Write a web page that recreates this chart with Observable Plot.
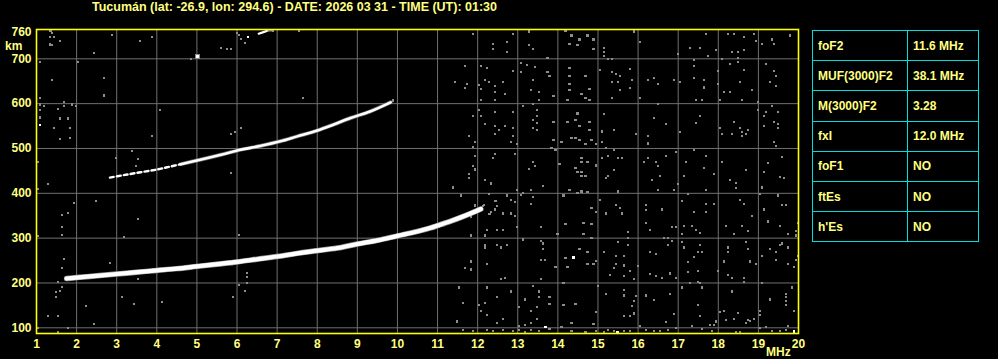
<!DOCTYPE html>
<html>
<head>
<meta charset="utf-8">
<script src="https://cdn.jsdelivr.net/npm/d3@7"></script>
<script src="https://cdn.jsdelivr.net/npm/@observablehq/plot@0.6"></script>
<style>
  html, body { margin: 0; padding: 0; background: #000; }
  #wrap { position: relative; width: 998px; height: 359px; overflow: hidden; background: #000;
          font-family: "Liberation Sans", Arial, sans-serif; font-weight: bold; font-size: 12px; color: #ffff80; }
  #chart { position: absolute; left: 0; top: 0; }
  .lbl { position: absolute; white-space: nowrap; line-height: 12px; }
  #title { left: 92px; top: 1px; transform-origin: 0 0; }
  #km { left: 5px; top: 40px; }
  #mhz { left: 766px; top: 346px; font-size: 12px; }
  #params { position: absolute; left: 812px; top: 30px; width: 166px; border-collapse: collapse; table-layout: fixed; }
  #params td { border: 1px solid #00dede; height: 29.2px; padding: 0 0 0 5px; color: #ffff80; font-size: 12px; line-height: 12px; white-space: nowrap; }
</style>
</head>
<body>
<div id="wrap">
  <div id="chart"></div>
  <div id="title" class="lbl"></div>
  <div id="km" class="lbl">km</div>
  <div id="mhz" class="lbl">MHz</div>
  <table id="params"><colgroup><col style="width:95px"><col style="width:71px"></colgroup><tbody></tbody></table>
</div>
<script>
// ---------- data ----------
const titleText = "Tucumán (lat: -26.9, lon: 294.6) - DATE: 2026 03 31 - TIME (UT): 01:30";
const freqTicks = [1,2,3,4,5,6,7,8,9,10,11,12,13,14,15,16,17,18,19,20];
const heightTicks = [100,200,300,400,500,600,700,760];
const freqGrid = [2,3,4,5,6,7,8,9,10,11,12,13,14,15,16,17,18,19];
const heightGrid = [100,200,300,400,500,600,700];

const paramNames = ["foF2","MUF(3000)F2","M(3000)F2","fxI","foF1","ftEs","h'Es"];
const paramValues = ["11.6 MHz","38.1 MHz","3.28","12.0 MHz","NO","NO","NO"];

// first-hop F trace (MHz, km)
const fTraceFreq   = [1.75,2.0,2.5,3.0,3.5,4.0,4.5,5.0,5.5,6.0,6.5,7.0,7.5,8.0,8.5,9.0,9.5,10.0,10.5,10.83,11.0,11.33,11.6,11.85,12.08];
const fTraceHeight = [210,212,216,220,224,228,232,237,242,247,253,259,266,272,278,287,295,305,315,323,328,338,347,356,365];

// second-hop trace
const f2DashFreq   = [2.83,3.2,3.6,4.0,4.3,4.6];
const f2DashHeight = [435,441,447,453,459,465];
const f2Freq   = [4.6,5.08,5.6,6.08,6.6,7.08,7.5,8.0,8.4,8.83,9.33,9.83];
const f2Height = [465,475,486,497,506,516,527,540,553,568,583,603];

// third-hop fragment near the top
const f3Freq   = [6.54,6.64,6.74];
const f3Height = [756,759,762];
const f3GreyFreq   = [6.74,6.82,6.9];
const f3GreyHeight = [762,763,763];

// bright isolated echoes
const whiteSpots = [[5.01,706],[6.28,748],[1.09,553],[14.39,257],[15.49,90],[19.89,92],[13.69,102]];

// noise speckles, f < 11 MHz
const noiseLow = [
 [1.35,762],[1.39,757],[1.34,748],[1.44,748],[1.59,739],[1.34,732],[1.39,730],[2.89,753],[2.44,713],
 [1.09,692],[2.04,692],[1.39,652],[2.69,657],[2.69,618],[1.09,612],[1.09,598],[1.19,594],[1.09,585],
 [1.09,569],[1.69,603],[1.69,594],[1.54,589],[1.89,598],[1.99,594],[1.59,567],[1.79,567],[1.44,545],
 [1.84,545],[1.59,522],[1.84,524],[1.54,202],[1.64,191],[1.49,179],[1.49,168],[1.59,182],[1.29,126],
 [1.54,126],[1.54,90],[1.79,99],[1.04,99],[2.24,148],[2.44,108],[3.14,168],[3.44,153],[4.14,157],
 [5.89,168],[6.19,182],[6.04,195],[6.24,200],[1.94,378],[2.49,382],[1.64,351],[1.79,356],[1.64,324],
 [1.64,307],[1.69,253],[1.64,233],[2.84,244],[3.54,342],[3.19,302],[3.54,208],[6.04,307],[6.24,222],
 [6.24,213],[6.04,195],[2.69,619],[4.09,585],[3.89,527],[3.39,495],[2.99,478],[3.54,476],[3.49,460],
 [5.84,533],[5.94,536],[6.09,545],[5.84,445],[7.64,612],[9.89,607],[3.59,739],[3.89,748],[5.59,724],
 [5.74,722],[5.84,722],[5.99,757],[6.04,753],[6.09,744],[6.19,735],[6.89,762],[7.54,762],[4.86,699],
 [1.04,470],[1.04,410],[1.29,420],[1.04,305]
];

// noise speckles, 11-14 MHz
const noise11to14 = [
 [11.89,756],[12.89,756],[13.29,761],[12.39,734],[12.74,737],[13.29,730],[12.39,721],[12.74,716],[13.39,721],
 [13.74,701],[13.09,691],[13.24,687],[13.44,682],[11.69,684],[12.09,684],[12.24,679],[12.89,673],[13.09,670],
 [13.74,670],[13.79,661],[11.44,648],[11.74,643],[11.69,634],[12.04,642],[12.09,632],[12.19,652],[12.29,648],
 [12.44,639],[12.64,648],[12.44,626],[12.69,621],[13.39,652],[13.34,630],[13.54,626],[13.89,617],[12.09,609],
 [12.44,608],[13.54,608],[12.04,585],[12.44,581],[12.89,581],[13.14,594],[13.39,599],[13.49,585],[11.89,572],
 [12.09,572],[13.49,572],[13.39,563],[13.49,556],[12.19,554],[12.44,550],[12.69,550],[12.89,545],[12.54,541],
 [12.44,532],[13.39,545],[13.49,542],[13.89,559],[11.79,527],[12.89,527],[11.94,514],[11.89,504],[12.84,514],
 [12.99,510],[13.89,519],[13.84,501],[13.94,496],[11.94,483],[12.44,487],[12.94,487],[12.39,478],[11.89,460],
 [11.94,453],[11.79,443],[11.79,434],[12.19,429],[12.34,422],[13.29,455],[13.44,461],[13.39,469],[13.64,417],
 [14.04,465],[11.39,413],[11.59,395],[12.29,398],[12.74,395],[13.09,397],[13.14,401],[12.99,408],[13.34,408],
 [12.84,385],[12.94,380],[12.44,382],[13.39,391],[13.34,377],[11.94,373],[12.14,371],[12.49,371],[12.44,364],
 [12.34,359],[12.29,353],[12.64,355],[12.84,355],[12.94,350],[12.24,319],[12.49,319],[12.64,319],[12.99,324],
 [13.59,324],[13.99,310],[11.84,306],[12.19,306],[13.14,297],[13.59,294],[13.64,288],[13.64,275],[12.19,284],
 [12.19,279],[12.49,284],[12.59,279],[12.74,284],[13.59,252],[13.69,252],[11.84,248],[11.69,233],[11.84,230],
 [12.24,243],[13.94,235],[12.59,208],[12.69,212],[13.59,208],[11.54,190],[12.24,190],[13.39,194],[13.54,181],
 [11.64,156],[12.04,151],[12.19,156],[12.49,168],[12.84,181],[13.54,168],[13.79,168],[13.19,163],[13.79,154],
 [13.04,147],[12.09,138],[12.24,129],[13.34,138],[13.49,147],[11.49,114],[12.64,120],[12.49,111],[13.04,104],
 [13.19,107],[13.34,111],[13.49,120],[11.64,96],[11.89,92],[12.24,96],[12.39,93],[12.64,95],[12.89,93],
 [13.04,96],[13.19,90],[13.34,96],[13.54,92],[13.79,98],
 [11.93,372],[12.16,373],[12.08,362],[11.83,348],[12.31,353],[12.49,371],[12.46,382]
];

// noise speckles, 14-17 MHz
const noise14to17 = [
 [14.19,762],[14.34,752],[14.74,752],[14.89,743],[14.54,743],[14.29,734],[14.49,730],[14.89,721],[15.14,725],
 [15.14,716],[15.14,707],[16.04,737],[15.89,761],[16.99,710],[15.24,699],[15.34,699],[14.29,679],[15.04,676],
 [15.34,670],[15.44,666],[15.54,661],[15.79,678],[15.84,652],[14.29,661],[14.69,661],[14.29,643],[14.29,630],
 [14.59,621],[14.69,612],[14.79,632],[14.79,609],[14.24,608],[15.34,648],[15.49,648],[15.54,630],[15.79,634],
 [15.34,612],[16.24,652],[16.39,657],[16.49,643],[16.89,652],[17.04,648],[16.04,612],[16.49,599],[14.49,578],
 [15.14,577],[14.24,559],[14.44,563],[14.79,559],[14.54,550],[14.79,541],[15.09,538],[15.39,541],[15.94,533],
 [16.39,568],[16.69,554],[16.24,527],[16.24,511],[14.34,524],[14.44,523],[14.54,519],[14.69,510],[14.84,519],
 [14.94,510],[14.09,514],[15.09,514],[15.19,501],[15.39,496],[17.04,536],[16.94,493],[14.59,478],[14.59,469],
 [14.74,469],[14.94,462],[14.44,456],[14.49,447],[14.59,438],[14.69,438],[14.59,447],[15.09,478],[15.24,483],
 [15.49,478],[15.59,478],[15.39,452],[15.24,438],[15.19,434],[16.14,469],[16.24,478],[16.44,469],[16.49,460],
 [16.69,483],[16.54,438],[16.34,429],[16.99,420],[14.29,408],[14.49,401],[14.59,404],[14.74,402],[15.49,404],
 [16.49,407],[16.89,408],[14.14,395],[15.04,386],[15.44,373],[15.54,368],[15.59,355],[15.19,355],[14.84,367],
 [14.94,359],[14.19,331],[14.64,333],[14.84,331],[14.64,310],[16.19,373],[16.19,362],[16.59,364],[16.19,333],
 [16.29,319],[16.84,324],[16.94,324],[15.74,313],[15.74,300],[14.84,301],[16.64,301],[16.74,301],[15.49,292],
 [15.14,270],[15.44,260],[15.64,261],[15.74,284],[15.44,242],[15.39,233],[15.64,239],[15.79,226],[15.29,217],
 [15.64,215],[15.89,209],[15.99,238],[14.54,275],[14.74,270],[14.19,255],[14.24,235],[14.74,243],[14.89,243],
 [14.94,249],[16.29,270],[16.44,264],[16.29,220],[16.44,215],[16.59,212],[16.79,221],[16.94,211],[16.74,285],
 [16.84,294],[14.14,199],[14.99,194],[15.19,176],[15.64,185],[15.64,172],[15.94,171],[15.89,159],[15.84,148],
 [15.89,132],[15.64,126],[15.79,126],[16.19,172],[16.39,162],[16.79,176],[16.89,130],[16.69,113],[14.14,150],
 [14.44,153],[14.94,136],[14.34,111],[14.89,108],[14.09,102],[14.34,93],[14.69,90],[14.94,92],[15.14,90],
 [15.24,95],[15.39,93],[15.64,92],[15.79,93],[16.04,104],[16.19,96],[16.39,92],[16.54,92],[16.74,96],[16.94,99]
];

// noise speckles, 17-20 MHz
const noise17to20 = [
 [17.69,756],[18.24,756],[18.39,756],[18.64,748],[18.89,756],[19.79,752],[19.34,743],[19.39,734],[19.09,734],
 [18.94,739],[17.29,725],[17.54,725],[17.74,707],[17.94,719],[18.34,716],[18.49,716],[18.64,719],[18.49,701],
 [18.49,693],[18.29,688],[18.09,699],[17.39,697],[17.39,684],[17.39,657],[17.64,652],[17.64,636],[17.99,672],
 [17.99,643],[18.64,676],[18.54,648],[19.19,688],[19.39,672],[19.44,661],[19.29,648],[19.44,639],[18.84,630],
 [18.14,626],[18.29,626],[17.44,608],[17.59,608],[18.04,609],[18.59,609],[18.99,603],[18.99,585],[19.19,581],
 [19.34,594],[19.49,581],[19.14,572],[19.14,550],[19.39,559],[19.49,554],[19.49,545],[19.39,514],[19.44,505],
 [17.54,572],[17.44,556],[18.04,545],[18.09,532],[18.39,559],[18.34,532],[18.54,545],[18.59,536],[18.74,541],
 [18.69,532],[18.59,527],[17.39,496],[17.69,483],[17.19,469],[17.14,438],[17.64,456],[17.89,443],[18.09,469],
 [18.69,452],[18.29,429],[18.44,423],[18.44,411],[17.69,408],[19.09,413],[19.24,468],[19.14,447],[19.59,481],
 [19.54,437],[19.64,434],[19.04,398],[17.24,398],[17.09,383],[17.39,359],[17.69,359],[17.69,377],[17.89,377],
 [18.54,386],[18.64,377],[18.84,350],[19.14,364],[19.24,337],[19.49,395],[19.59,373],[19.69,373],[17.14,328],
 [17.34,328],[17.44,318],[17.54,312],[17.09,310],[18.19,328],[18.39,310],[18.59,328],[18.74,315],[19.54,328],
 [19.74,310],[19.94,315],[19.94,306],[19.99,333],[17.09,292],[17.14,279],[17.54,284],[17.49,270],[17.59,270],
 [17.39,257],[17.24,246],[17.24,224],[17.49,226],[18.14,248],[18.24,279],[18.24,270],[18.69,292],[18.74,275],
 [18.79,248],[18.94,243],[19.09,261],[19.29,275],[19.44,270],[19.54,285],[19.59,288],[19.74,279],[19.44,252],
 [19.74,243],[19.89,235],[19.94,252],[19.99,261],[17.99,226],[18.24,217],[18.34,212],[18.64,212],[18.64,203],
 [19.09,199],[17.09,190],[17.29,199],[17.49,203],[17.54,199],[17.59,190],[18.34,181],[19.84,190],[19.69,176],
 [19.69,168],[19.69,159],[19.69,150],[19.29,163],[19.89,138],[19.04,138],[19.04,129],[17.49,151],[17.54,126],
 [18.04,135],[18.14,138],[18.49,133],[18.39,120],[18.19,117],[17.94,114],[17.89,107],[17.79,107],[18.74,117],
 [18.79,116],[18.89,120],[18.69,110],[18.54,90],[18.44,90],[17.59,98],[17.84,93],[17.34,104],[19.04,99],
 [19.19,102],[19.34,93],[19.54,93],[19.69,96],[19.74,104]
];

// ---------- build ----------
const toRows = (fs, hs) => fs.map((f, i) => ({f, h: hs[i]}));
const pairRows = arr => arr.map(([f, h]) => ({f, h}));
const noiseRows = pairRows([...noiseLow, ...noise11to14, ...noise14to17, ...noise17to20]);

const chart = Plot.plot({
  width: 998,
  height: 359,
  marginLeft: 36,
  marginRight: 200,
  marginTop: 29,
  marginBottom: 26,
  style: {background: "#000", color: "#ffff80", fontFamily: "'Liberation Sans', Arial, sans-serif",
          fontSize: "12px", fontWeight: "bold", overflow: "visible"},
  x: {domain: [1, 20], ticks: freqTicks, tickFormat: d => String(d), tickSize: 0, tickPadding: 6, label: null},
  y: {domain: [87.3, 765.4], ticks: heightTicks, tickFormat: d => String(d), tickSize: 0, tickPadding: 5, label: null},
  marks: [
    Plot.ruleX(freqGrid, {stroke: "#707070", strokeWidth: 1}),
    Plot.ruleY(heightGrid, {stroke: "#707070", strokeWidth: 1}),
    Plot.dot(noiseRows, {x: "f", y: "h", symbol: "square", r: 1.2, fill: "#8c8c8c", stroke: "none", shapeRendering: "crispEdges"}),
    Plot.line(toRows(f2Freq, f2Height), {x: "f", y: "h", stroke: "#8a8a8a", strokeWidth: 4, strokeOpacity: 0.7, curve: "catmull-rom"}),
    Plot.line(toRows(fTraceFreq, fTraceHeight), {x: "f", y: "h", stroke: "#9a9a9a", strokeWidth: 5.5, curve: "catmull-rom"}),
    Plot.line(toRows(fTraceFreq, fTraceHeight), {x: "f", y: "h", stroke: "#fff", strokeWidth: 4.2, curve: "catmull-rom"}),
    Plot.line(toRows(f2DashFreq, f2DashHeight), {x: "f", y: "h", stroke: "#fff", strokeWidth: 2.4, strokeDasharray: "4,3", curve: "catmull-rom"}),
    Plot.line(toRows(f2Freq, f2Height), {x: "f", y: "h", stroke: "#fff", strokeWidth: 2.6, curve: "catmull-rom"}),
    Plot.line(toRows(f3GreyFreq, f3GreyHeight), {x: "f", y: "h", stroke: "#8a8a8a", strokeWidth: 2}),
    Plot.line(toRows(f3Freq, f3Height), {x: "f", y: "h", stroke: "#fff", strokeWidth: 2.2}),
    Plot.dot(pairRows(whiteSpots), {x: "f", y: "h", symbol: "square", r: 1.3, fill: "#fff", stroke: "none", shapeRendering: "crispEdges"}),
    Plot.dot(pairRows([whiteSpots[0]]), {x: "f", y: "h", symbol: "square", r: 2.2, fill: "#fff", stroke: "#8a8a8a", strokeWidth: 1, shapeRendering: "crispEdges"}),
    Plot.frame({stroke: "#ffff00", strokeWidth: 1.6})
  ]
});
document.getElementById("chart").appendChild(chart);

// title, scaled to the reference's text width
const title = document.getElementById("title");
title.textContent = titleText;
const tw = title.getBoundingClientRect().width;
title.style.transform = `scaleX(${405 / tw})`;

// parameter table
const tbody = document.querySelector("#params tbody");
paramNames.forEach((name, i) => {
  const tr = document.createElement("tr");
  const a = document.createElement("td"); a.textContent = name;
  const b = document.createElement("td"); b.textContent = paramValues[i];
  tr.appendChild(a); tr.appendChild(b);
  tbody.appendChild(tr);
});
</script>
</body>
</html>
